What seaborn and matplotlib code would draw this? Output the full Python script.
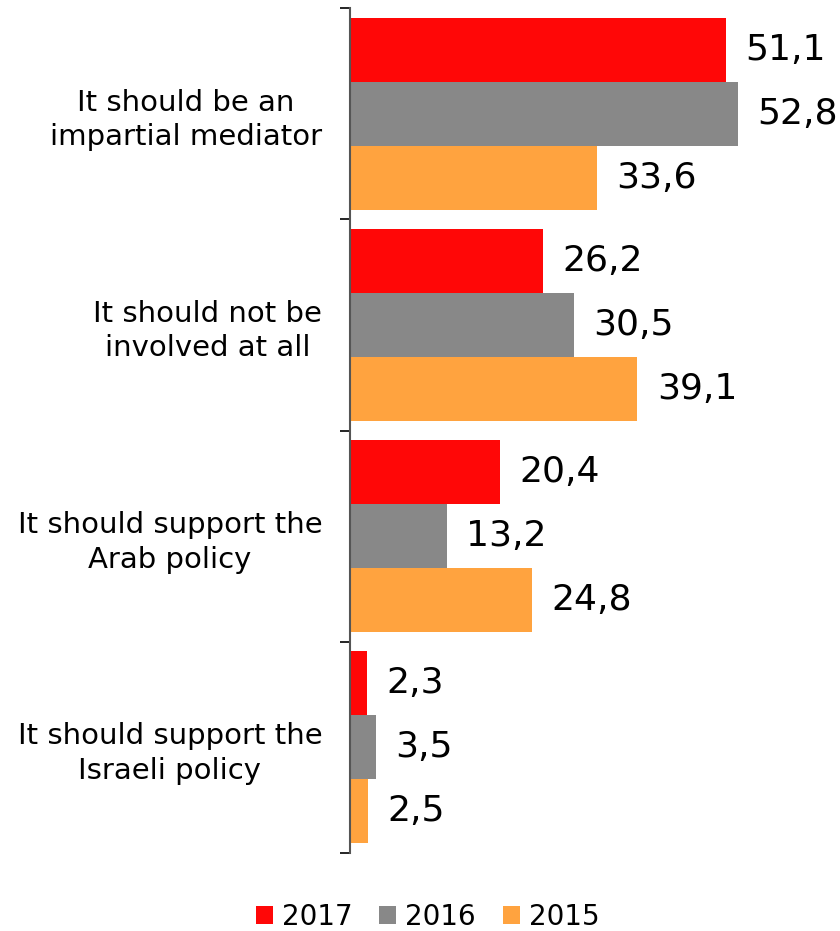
import pandas as pd
import matplotlib.pyplot as plt
import seaborn as sns
import numpy as np

# Data
categories = ['It should be an\nimpartial mediator',
              'It should not be\ninvolved at all',
              'It should support the\nArab policy',
              'It should support the\nIsraeli policy']
years = ['2017', '2016', '2015']
values_2017 = [51.1, 26.2, 20.4, 2.3]
values_2016 = [52.8, 30.5, 13.2, 3.5]
values_2015 = [33.6, 39.1, 24.8, 2.5]
colors = ['#FF0707', '#888888', '#FFA33F']

df = pd.DataFrame({
    'category': categories * 3,
    'year': [y for y in years for _ in categories],
    'value': values_2017 + values_2016 + values_2015,
})

sns.set_style('white')
plt.rcParams['font.family'] = ['DejaVu Sans']
plt.rcParams['text.color'] = 'black'
plt.rcParams['ytick.color'] = 'black'

fig = plt.figure(figsize=(8.4, 9.31), dpi=100)
ax = fig.add_axes([350 / 840, 1 - 853 / 931, 490 / 840, 845 / 931])

sns.barplot(data=df, y='category', x='value', hue='year', orient='h',
            palette=colors, width=0.91, gap=0, saturation=1,
            edgecolor='none', ax=ax)

# value labels with decimal comma
for cont in ax.containers:
    labels = [f'{v:.1f}'.replace('.', ',') for v in cont.datavalues]
    ax.bar_label(cont, labels=labels, padding=14, fontsize=26, color='black')

ax.set_xlim(0, 490 / 7.35)
ax.set_ylim(3.5, -0.5)
ax.set_xlabel('')
ax.set_ylabel('')
ax.set_xticks([])

for s in ['top', 'right', 'bottom']:
    ax.spines[s].set_visible(False)
ax.spines['left'].set_color('#555555')
ax.spines['left'].set_linewidth(1.5)

# category labels, tick marks at group boundaries
ax.set_yticks(range(len(categories)))
ax.set_yticklabels(categories, fontsize=21, multialignment='center',
                   color='black', linespacing=1.3)
ax.tick_params(axis='y', which='major', length=0, pad=20)
ax.set_yticks(np.arange(-0.5, len(categories)), minor=True)
ax.tick_params(axis='y', which='minor', length=7, width=1.2,
               color='black', direction='out', left=True)

sns.move_legend(ax, 'lower center', bbox_to_anchor=(0.509, -0.027),
                bbox_transform=fig.transFigure, ncol=3, frameon=False,
                title=None, fontsize=20, handlelength=0.62, handleheight=0.62,
                handletextpad=0.32, columnspacing=0.97)

fig.savefig('out.png', dpi=100)
